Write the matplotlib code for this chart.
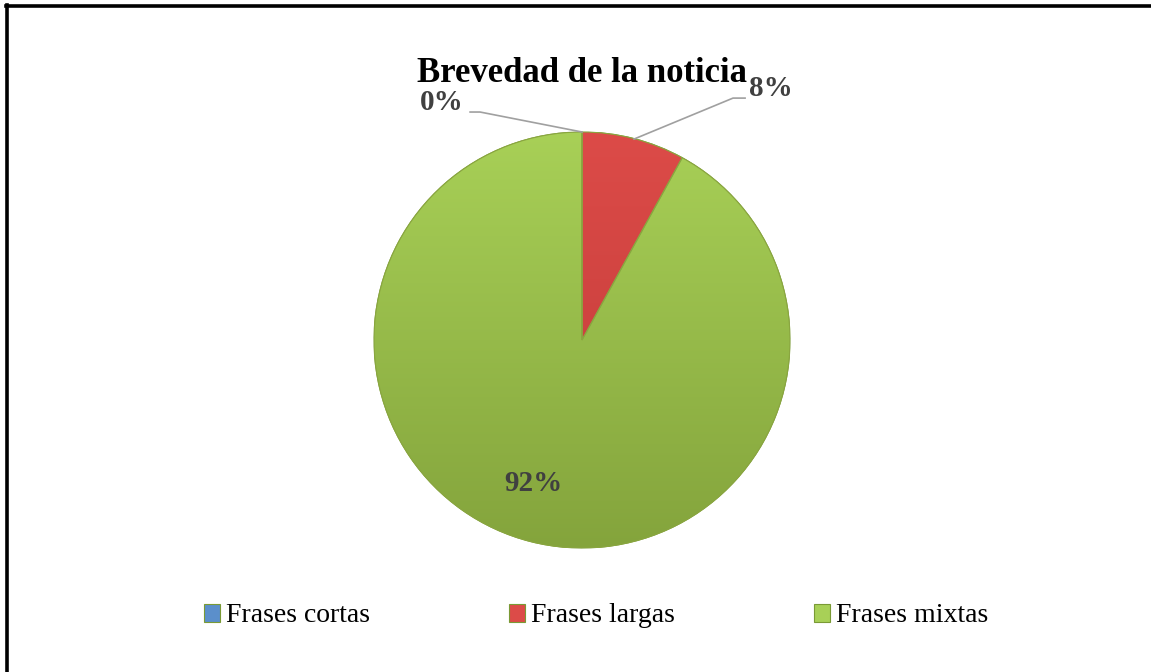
import numpy as np
import matplotlib.pyplot as plt
from matplotlib.colors import LinearSegmentedColormap
from matplotlib.lines import Line2D
from matplotlib.patches import Wedge

# data
categories = ["Frases cortas", "Frases largas", "Frases mixtas"]
values = [0, 8, 92]
labels = ["0%", "8%", "92%"]
title = "Brevedad de la noticia"

top_colors = ["#5B8FCB", "#DC4B48", "#A8D057"]
bottom_colors = ["#3A6AA5", "#C03A37", "#84A43C"]

plt.rcParams['font.family'] = ['Liberation Serif', 'DejaVu Serif']

fig = plt.figure(figsize=(11.51, 6.72), dpi=100)
W, H = 1151, 672

# frame lines (top and left only, as in the cropped reference)
fig.add_artist(Line2D([6 / W, 1.0], [1 - 5.5 / H, 1 - 5.5 / H], color="black", lw=2.6))
fig.add_artist(Line2D([6.5 / W, 6.5 / W], [0, 1 - 4.5 / H], color="black", lw=2.6))

# pie axes: center (582, 340) px, radius 208 px
cx, cy, r = 582, 340, 208
ax = fig.add_axes([(cx - r) / W, (H - cy - r) / H, 2 * r / W, 2 * r / H])
wedges, _ = ax.pie(values, startangle=90, counterclock=False, radius=1,
                   colors=top_colors,
                   wedgeprops=dict(edgecolor="#7A9A35", linewidth=0.8))

# vertical gradient shading clipped to each wedge
for w, c1, c2 in zip(wedges, top_colors, bottom_colors):
    cmap = LinearSegmentedColormap.from_list("g", [c2, c1])
    grad = np.linspace(0, 1, 256).reshape(-1, 1)
    im = ax.imshow(grad, cmap=cmap, extent=[-1, 1, -1, 1], origin="lower",
                   aspect="auto", zorder=w.get_zorder() + 0.1)
    im.set_clip_path(w)

# edge lines over the gradient
for w in wedges:
    ax.add_patch(Wedge(w.center, w.r, w.theta1, w.theta2, fill=False,
                       edgecolor="#8AA640", lw=0.8, zorder=5))

ax.set_xlim(-1, 1)
ax.set_ylim(-1, 1)
ax.set_aspect("equal")
ax.axis("off")

lab_kw = dict(fontsize=21, fontweight="bold", color="#404040")
grey = "#A0A0A0"

# 0% label with leader line
ax.plot([0.0, -0.49, -0.538], [1.0, 1.096, 1.096], color=grey, lw=1.2, clip_on=False, zorder=6)
ax.text(-0.673, 1.142, labels[0], ha="center", va="center", **lab_kw)

# 8% label with leader line
ax.plot([0.25, 0.726, 0.784], [0.966, 1.163, 1.163], color=grey, lw=1.2, clip_on=False, zorder=6)
ax.text(0.906, 1.207, labels[1], ha="center", va="center", **lab_kw)

# 92% inside
ax.text(-0.236, -0.688, labels[2], ha="center", va="center", zorder=7, **lab_kw)

fig.text(582 / W, 1 - 74 / H, title, ha="center", va="center",
         fontsize=25, fontweight="bold", color="black")

fig.legend(wedges, categories, loc="center", bbox_to_anchor=(596 / W, 1 - 616 / H),
           ncol=3, frameon=False, fontsize=20, handlelength=0.6, handleheight=0.6,
           handletextpad=0.2, columnspacing=5.0)

fig.savefig("out.png", dpi=100)
